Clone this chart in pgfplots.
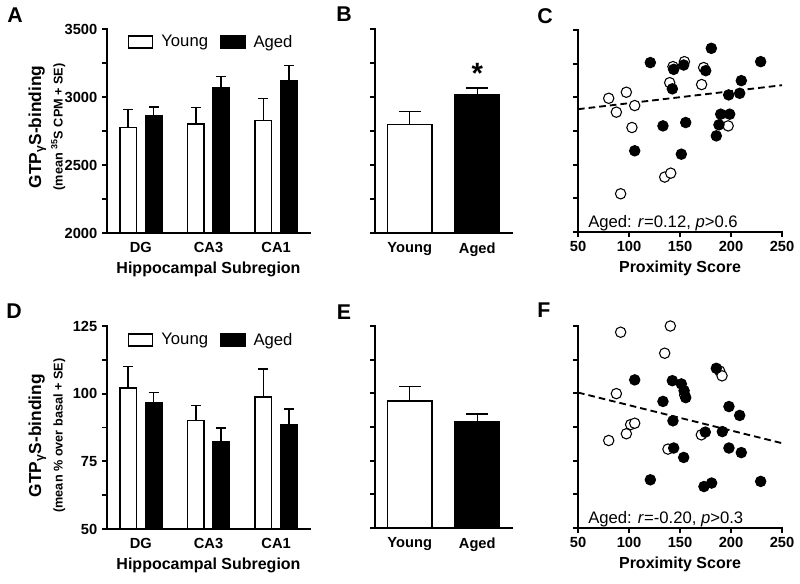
\documentclass[border=0pt]{standalone}
\usepackage{fontspec}
\setmainfont{Liberation Sans}
\usepackage{pgfplots}
\pgfplotsset{compat=1.18}
\pgfplotsset{
  gp/.style={
    scale only axis,
    axis lines=left,
    axis line style={line width=1.4pt,-,line cap=rect},
    tick style={line width=1.4pt,black},
    tick align=outside,
    major tick length=3.75pt,
    /pgf/number format/assume math mode=true,
    /pgf/number format/1000 sep={},
    tick label style={font=\bfseries\fontsize{11}{13}\selectfont},
    label style={font=\bfseries\fontsize{12}{14}\selectfont},
  },
  noylabels/.style={yticklabels={{},{},{},{},{},{},{}}},
  barY/.style={ybar, bar width=12.4pt, bar shift=0pt, draw=black, fill=white, line width=1.1pt,
    error bars/.cd, y dir=plus, y explicit,
    error bar style={line width=1.1pt, black},
    error mark options={line width=1.1pt, black, mark size=3.75pt, rotate=90}},
  barA/.style={ybar, bar width=12.4pt, bar shift=0pt, draw=black, fill=black, line width=1.1pt,
    error bars/.cd, y dir=plus, y explicit,
    error bar style={line width=1.1pt, black},
    error mark options={line width=1.1pt, black, mark size=3.75pt, rotate=90}},
  wideY/.style={ybar, bar width=33.4pt, bar shift=0pt, draw=black, fill=white, line width=1.1pt,
    error bars/.cd, y dir=plus, y explicit,
    error bar style={line width=1.1pt, black},
    error mark options={line width=1.1pt, black, mark size=8.25pt, rotate=90}},
  wideA/.style={ybar, bar width=33.4pt, bar shift=0pt, draw=black, fill=black, line width=1.1pt,
    error bars/.cd, y dir=plus, y explicit,
    error bar style={line width=1.1pt, black},
    error mark options={line width=1.1pt, black, mark size=8.25pt, rotate=90}},
  youngpts/.style={only marks, mark=*, mark size=3.9pt, mark options={fill=white, draw=black, line width=0.8pt}},
  agedpts/.style={only marks, mark=*, mark size=3.9pt, mark options={fill=black, draw=black, line width=0.8pt}},
  fitline/.style={black, line width=1.4pt, dash pattern=on 5pt off 3pt},
  boxlegend/.style={
    legend columns=2,
    legend style={draw=none, fill=none, inner sep=0pt, outer sep=0pt,
      font=\fontsize{12.5}{14}\selectfont,
      /tikz/every odd column/.append style={column sep=4pt},
      /tikz/every even column/.append style={column sep=7pt}},
    legend image code/.code={\draw[line width=1.1pt, draw=black, ##1] (0pt,-4.5pt) rectangle (18pt,4.5pt);},
  },
}
\begin{document}
\begin{tikzpicture}
\useasboundingbox (0pt,0pt) rectangle (600pt,-437.25pt);

% ---------- A ----------
\begin{axis}[gp, at={(80.25pt,-174.75pt)}, anchor=south west,
  width=152.25pt, height=153pt,
  xmin=-0.5, xmax=2.5, ymin=2000, ymax=3500,
  xtick={0,1,2}, xticklabels={DG,CA3,CA1}, x tick style={draw=none},
  ytick={2000,2250,...,3500}, yticklabels={2000,,2500,,3000,,3500},
  xlabel={Hippocampal Subregion},
  ylabel={GTP\textsubscript{γ}S-binding\\{\fontsize{9.5}{11}\selectfont(mean \textsuperscript{35}S CPM + SE)}},
  ylabel style={align=center, font=\bfseries\fontsize{13}{16}\selectfont, at={(axis description cs:-0.296,0.52)}, anchor=center},
  boxlegend,
  legend style={at={(axis description cs:0.103,0.936)}, anchor=west},
]
\addplot[barY] coordinates {(-0.188,2777) +- (0,130) (0.812,2801) +- (0,123) (1.812,2826) +- (0,162)};
\addlegendentry{Young}
\addplot[barA] coordinates {(0.188,2865) +- (0,61) (1.188,3066) +- (0,86) (2.188,3120) +- (0,110)};
\addlegendentry{Aged}
\end{axis}

% ---------- B ----------
\begin{axis}[gp, at={(281.25pt,-174.75pt)}, anchor=south west,
  width=102.75pt, height=153pt,
  xmin=-0.515, xmax=1.515, ymin=2000, ymax=3500,
  xtick={0,1}, xticklabels={Young,Aged}, x tick style={draw=none},
  ytick={2000,2250,...,3500}, noylabels,
]
\addplot[wideY] coordinates {(0,2798) +- (0,96)};
\addplot[wideA] coordinates {(1,3017) +- (0,49)};
\node[font=\bfseries\fontsize{22}{24}\selectfont, anchor=north, inner sep=0pt] at (axis cs:1,3250) {*};
\end{axis}

% ---------- C ----------
\begin{axis}[gp, at={(433.5pt,-174pt)}, anchor=south west,
  width=153pt, height=151.5pt, clip=false,
  xmin=50, xmax=250, ymin=2000, ymax=3500,
  xtick={50,100,...,250},
  ytick={2000,2250,...,3500}, noylabels,
  xlabel={Proximity Score},
]
\addplot[youngpts] coordinates {
(80.1,2993) (87.6,2890) (97.4,3038) (105.6,2939) (102.9,2776) (91.8,2284)
(135.0,2408) (140.9,2437) (139.9,3109) (143.1,3228) (154.3,3265) (173.2,3221)
(171.2,3095) (197.2,2788)};
\addplot[agedpts] coordinates {
(120.9,3258) (143.8,3208) (153.6,3240) (180.7,3364) (175.2,3198) (142.5,3063)
(133.3,2788) (155.6,2813) (105.6,2603) (151.3,2578) (229.1,3265) (210.1,3124)
(208.5,3030) (197.7,3018) (189.9,2875) (198.7,2875) (188.2,2796) (185.6,2714)};
\addplot[fitline] coordinates {(50,2912) (250,3090)};
\node[anchor=base west, inner sep=0pt, font=\fontsize{12.5}{14}\selectfont] at (axis cs:59.8,2037) {Aged: \textit{r}=0.12, \textit{p}>0.6};
\end{axis}

% ---------- D ----------
\begin{axis}[gp, at={(80.25pt,-396.75pt)}, anchor=south west,
  width=152.25pt, height=152.25pt,
  xmin=-0.5, xmax=2.5, ymin=50, ymax=125,
  xtick={0,1,2}, xticklabels={DG,CA3,CA1}, x tick style={draw=none},
  ytick={50,62.5,...,125}, yticklabels={50,,75,,100,,125},
  xlabel={Hippocampal Subregion},
  ylabel={GTP\textsubscript{γ}S-binding\\{\fontsize{9.5}{11}\selectfont(mean \% over basal + SE)}},
  ylabel style={align=center, font=\bfseries\fontsize{13}{16}\selectfont, at={(axis description cs:-0.296,0.46)}, anchor=center},
  boxlegend,
  legend style={at={(axis description cs:0.103,0.931)}, anchor=west},
]
\addplot[barY] coordinates {(-0.188,102.1) +- (0,8.0) (0.812,90.1) +- (0,5.6) (1.812,98.8) +- (0,10.3)};
\addlegendentry{Young}
\addplot[barA] coordinates {(0.188,96.8) +- (0,3.6) (1.188,82.2) +- (0,5.1) (2.188,88.5) +- (0,5.8)};
\addlegendentry{Aged}
\end{axis}

% ---------- E ----------
\begin{axis}[gp, at={(281.25pt,-396pt)}, anchor=south west,
  width=102.75pt, height=151.5pt,
  xmin=-0.515, xmax=1.515, ymin=50, ymax=125,
  xtick={0,1}, xticklabels={Young,Aged}, x tick style={draw=none},
  ytick={50,62.5,...,125}, noylabels,
]
\addplot[wideY] coordinates {(0,97.2) +- (0,5.3)};
\addplot[wideA] coordinates {(1,89.3) +- (0,3.0)};
\end{axis}

% ---------- F ----------
\begin{axis}[gp, at={(433.5pt,-396pt)}, anchor=south west,
  width=153pt, height=151.5pt, clip=false,
  xmin=50, xmax=250, ymin=50, ymax=125,
  xtick={50,100,...,250},
  ytick={50,62.5,...,125}, noylabels,
  xlabel={Proximity Score},
]
\addplot[youngpts] coordinates {
(91.8,122.7) (140.5,125.0) (135.0,114.9) (87.6,99.9) (80.1,82.5) (97.4,85.0)
(101.6,88.4) (105.6,88.9) (138.2,79.3) (170.9,84.6) (188.9,108.3) (191.2,106.5)
(154.6,99.4)};
\addplot[agedpts] coordinates {
(105.6,105.0) (142.5,104.7) (151.3,103.5) (154.0,101.0) (155.6,98.4) (133.3,97.0)
(143.1,89.8) (174.8,85.6) (191.5,85.8) (198.0,95.1) (208.5,91.8) (185.6,109.3)
(143.8,79.7) (153.6,76.2) (198.0,79.7) (210.1,78.0) (120.9,67.9) (173.5,65.4)
(181.0,66.7) (229.1,67.3)};
\addplot[fitline] coordinates {(50,100.3) (250,81.5)};
\node[anchor=base west, inner sep=0pt, font=\fontsize{12.5}{14}\selectfont] at (axis cs:59.8,51.5) {Aged: \textit{r}=-0.20, \textit{p}>0.3};
\end{axis}

% panel letters
\node[font=\bfseries\fontsize{16}{18}\selectfont] at (11.25pt,-11.25pt) {A};
\node[font=\bfseries\fontsize{16}{18}\selectfont] at (258pt,-10.5pt) {B};
\node[font=\bfseries\fontsize{16}{18}\selectfont] at (408.75pt,-12pt) {C};
\node[font=\bfseries\fontsize{16}{18}\selectfont] at (10.5pt,-233.25pt) {D};
\node[font=\bfseries\fontsize{16}{18}\selectfont] at (258pt,-234pt) {E};
\node[font=\bfseries\fontsize{16}{18}\selectfont] at (408pt,-232.5pt) {F};
\end{tikzpicture}
\end{document}
